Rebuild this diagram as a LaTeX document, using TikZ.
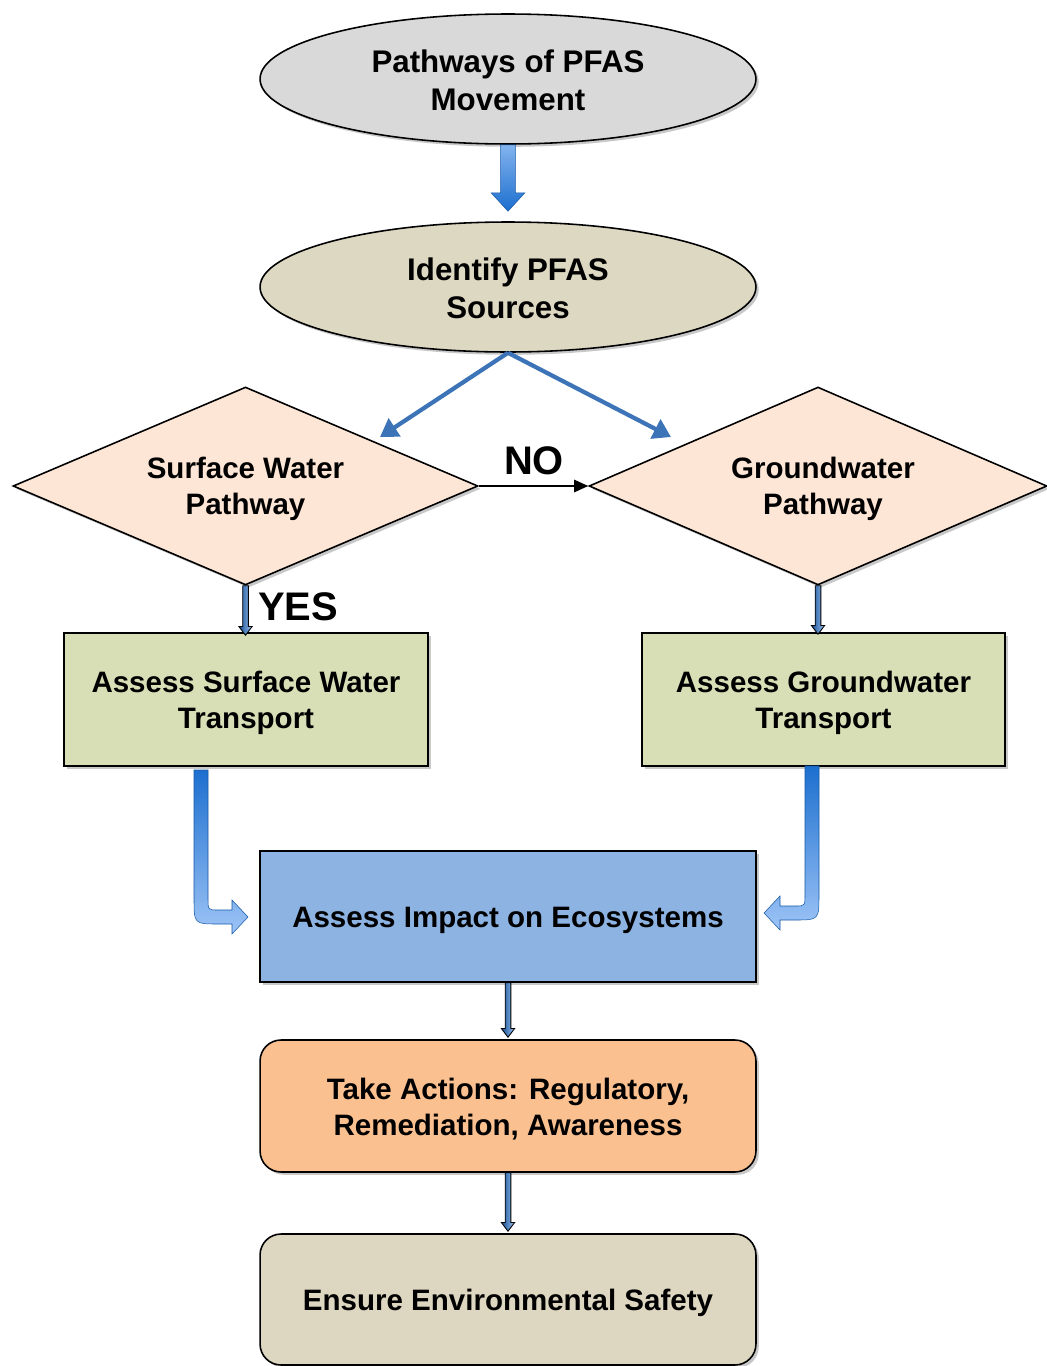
\documentclass[tikz,border=0pt]{standalone}
\usepackage{fontspec}
\setmainfont{Liberation Sans}
\usetikzlibrary{shapes.geometric,arrows.meta,calc,shadows}
\definecolor{ellgray}{HTML}{D9D9D9}
\definecolor{elltan}{HTML}{DDD8C2}
\definecolor{peach}{HTML}{FDE6D6}
\definecolor{olive}{HTML}{D8DEB6}
\definecolor{boxblue}{HTML}{8DB3E2}
\definecolor{boxorange}{HTML}{FAC090}
\definecolor{boxtan}{HTML}{DDD6C0}
\definecolor{arrowblue}{HTML}{3D74B8}
\definecolor{gradtop}{HTML}{1C6FCF}
\definecolor{gradbot}{HTML}{9DC4F6}
\tikzset{
  shad/.style={drop shadow={shadow xshift=1.6pt,shadow yshift=-1.6pt,opacity=0.3,fill=black!70}},
  txt/.style={font=\bfseries\fontsize{16.8}{20.4}\selectfont, align=center, text=black, inner sep=0pt},
  etxt/.style={txt, font=\bfseries\fontsize{17.8}{21.5}\selectfont},
  ell/.style={shape=ellipse, draw=black, line width=0.9pt, minimum width=9.92cm, minimum height=2.6cm, inner sep=0pt, shad},
  dia/.style={shape=diamond, draw=black, line width=0.9pt, fill=peach, shape aspect=2.35, inner sep=0pt, minimum height=3.96cm, shad},
  box/.style={draw=black, line width=0.9pt, minimum width=7.28cm, minimum height=2.66cm, inner sep=0pt, shad},
  rbox/.style={box, rounded corners=0.42cm, minimum width=9.92cm, minimum height=2.64cm},
  blockarrow/.style={top color=gradtop, bottom color=gradbot, draw=gradtop!80!black, line width=0.3pt},
  blockarrowup/.style={top color=gradbot!80!gradtop, bottom color=gradtop, draw=gradtop!80!black, line width=0.3pt},
  thinarrow/.style={left color=gradtop!70!black, right color=gradbot, draw=black, line width=0.5pt},
  diag/.style={draw=arrowblue, line width=2.4pt, -{Triangle[length=10pt,width=12pt]}},
  big/.style={font=\bfseries\fontsize{22.7}{26}\selectfont}
}
\newcommand\thinarr[2]{%
  \draw[thinarrow] let \p1=(#1), \p2=(#2) in
    (\x1-1.6pt,\y1) -- (\x1-1.6pt,\y2+5pt) -- (\x1-3.8pt,\y2+5pt) -- (\x1,\y2)
    -- (\x1+3.8pt,\y2+5pt) -- (\x1+1.6pt,\y2+5pt) -- (\x1+1.6pt,\y1) -- cycle;}
\begin{document}
\begin{tikzpicture}[x=0.02cm,y=-0.02cm]
\useasboundingbox (0,0) rectangle (1046,1366);
\fill[white] (0,0) rectangle (1046,1366);

% shapes
\node[ell, fill=ellgray] (e1) at (508,79) {};
\node[ell, fill=elltan] (e2) at (508,287) {};
\node[dia, minimum width=9.3cm] (ld) at (245.5,486) {};
\node[dia, minimum width=9.16cm] (rd) at (818,486) {};
\node[box, fill=olive] (lr) at (246,699.5) {};
\node[box, fill=olive, minimum width=7.26cm] (rr) at (823.5,699.5) {};
\node[box, fill=boxblue, minimum width=9.92cm, minimum height=2.62cm] (im) at (508,916.5) {};
\node[rbox, fill=boxorange] (ta) at (508,1106) {};
\node[rbox, fill=boxtan, minimum height=2.62cm] (es) at (508,1299.5) {};

% texts
\node[etxt] (e1t) at ($(e1)+(0,1)$) {Pathways of PFAS\\Movement};
\node[etxt] (e2t) at ($(e2)+(0,1)$) {Identify PFAS\\Sources};
\node[txt] (ldt) at (245.5,488.5) {Surface Water\\Pathway};
\node[txt] (rdt) at (823,488.5) {Groundwater\\Pathway};
\node[txt] (lrt) at ($(lr)+(0,3)$) {Assess Surface Water\\Transport};
\node[txt] (rrt) at ($(rr)+(0,3.5)$) {Assess Groundwater\\Transport};
\node[txt] (imt) at ($(im)+(0,3.5)$) {Assess Impact on Ecosystems};
\node[txt] (tat) at ($(ta)+(0,3)$) {Take Actions: Regulatory,\\Remediation, Awareness};
\node[txt] (est) at ($(es)+(0,3)$) {Ensure Environmental Safety};

% block arrow top
\draw[blockarrowup] let \p1=(e1.south), \p2=($(e2.north)+(0,-10)$) in
  (\x1-4.2pt,\y1) -- (\x1-4.2pt,\y2+10.5pt) -- (\x1-9.6pt,\y2+10.5pt) -- (\x2,\y2)
  -- (\x1+9.6pt,\y2+10.5pt) -- (\x1+4.2pt,\y2+10.5pt) -- (\x1+4.2pt,\y1) -- cycle;

% diagonal arrows
\coordinate (dl) at (380,437);
\coordinate (dr) at (671,437);
\draw[diag] (e2.south) -- (dl);
\draw[diag] (e2.south) -- (dr);

% NO arrow
\draw[black, line width=1pt, -{Triangle[length=8pt,width=7pt]}] (ld.east) -- (rd.west);
\node[big] (no) at (534,461) {NO};

% YES arrow
\thinarr{ld.south}{$(lr.north)+(0,3)$}
\node[big, anchor=west] (yes) at (252,607) {YES};
\thinarr{rd.south}{$(rr.north)+(0,2)$}

% bent arrows
\draw[blockarrow] (194,770) -- (194,898) .. controls (194,924) .. (218,924) -- (232,924) -- (232,934)
  -- (248,917) -- (232,900) -- (232,910) -- (218,910) .. controls (208,910) .. (208,898) -- (208,770) -- cycle;
\draw[blockarrow] (819,766) -- (819,894) .. controls (819,920) .. (795,920) -- (780,920) -- (780,930)
  -- (764,913) -- (780,896) -- (780,906) -- (795,906) .. controls (805,906) .. (805,894) -- (805,766) -- cycle;

% thin arrows lower
\thinarr{im.south}{$(ta.north)+(0,-2)$}
\thinarr{ta.south}{$(es.north)+(0,-2)$}
\end{tikzpicture}
\end{document}
